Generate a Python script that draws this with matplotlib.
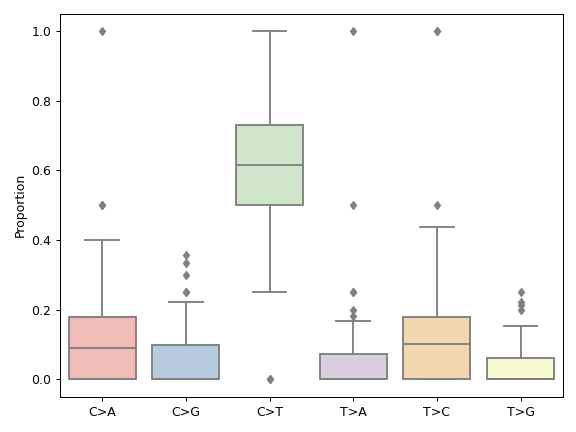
import matplotlib
matplotlib.use('Agg')
import matplotlib.pyplot as plt
import seaborn as sns

categories = ['C>A', 'C>G', 'C>T', 'T>A', 'T>C', 'T>G']
q1 = [0.0, 0.0, 0.5, 0.0, 0.0, 0.0]
med = [0.0909, 0.0, 0.6154, 0.0, 0.1, 0.0]
q3 = [0.1778, 0.0988, 0.7308, 0.0714, 0.1778, 0.0625]
whislo = [0.0, 0.0, 0.25, 0.0, 0.0, 0.0]
whishi = [0.4, 0.2222, 1.0, 0.1667, 0.4375, 0.1538]
fliers = [
    [0.5, 0.5, 1.0],
    [0.25, 0.25, 0.3, 0.3333, 0.3571],
    [0.0, 0.0],
    [0.1818, 0.2, 0.25, 0.25, 0.5, 1.0],
    [0.5, 1.0, 1.0],
    [0.2, 0.2143, 0.2222, 0.25],
]

stats = []
for i, c in enumerate(categories):
    stats.append({'label': c, 'q1': q1[i], 'med': med[i], 'q3': q3[i],
                  'whislo': whislo[i], 'whishi': whishi[i], 'fliers': fliers[i]})

colors = [sns.desaturate(c, 0.75) for c in sns.color_palette('Pastel1', 6)]
gray = '#808080'

fig, ax = plt.subplots(figsize=(6.4, 4.8), dpi=90)
bp = ax.bxp(stats, positions=range(len(categories)), widths=0.8, patch_artist=True,
            boxprops=dict(edgecolor=gray, linewidth=1.5),
            medianprops=dict(color=gray, linewidth=1.5),
            whiskerprops=dict(color=gray, linewidth=1.5),
            capprops=dict(color=gray, linewidth=1.5),
            flierprops=dict(marker='d', markerfacecolor=gray, markeredgecolor=gray, markersize=5))
for patch, col in zip(bp['boxes'], colors):
    patch.set_facecolor(col)

ax.set_xlim(-0.5, len(categories) - 0.5)
ax.set_ylim(-0.05, 1.05)
ax.set_xticks(range(len(categories)))
ax.set_xticklabels(categories)
ax.set_ylabel('Proportion')
plt.tight_layout()
plt.savefig('out.png')
